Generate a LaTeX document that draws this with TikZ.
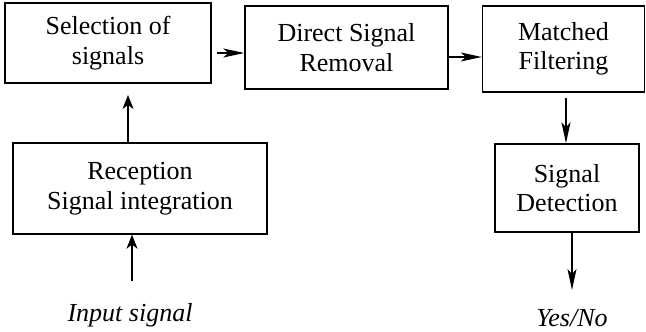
\documentclass[tikz,border=0pt]{standalone}
\usepackage{fontspec}
\setmainfont{Liberation Serif}
\usetikzlibrary{arrows.meta}
\begin{document}
\begin{tikzpicture}[x=1pt,y=-1pt,
  box/.style={draw,line width=1.4pt,align=center,inner sep=0pt,font=\fontsize{26}{29.5}\selectfont},
  arrlong/.style={line width=1.6pt,-{Stealth[length=21pt,width=9pt,inset=5pt]}},
  arrshort/.style={line width=1.6pt,-{Stealth[length=14pt,width=11pt,inset=4pt]}},
  lbl/.style={font=\fontsize{26}{29.5}\selectfont\itshape,inner sep=0pt,anchor=base}]
\useasboundingbox (0,0) rectangle (646,332);
\node[box,minimum width=206pt,minimum height=80pt] (b1) at (108,43) {Selection of\\signals};
\node[box,minimum width=203pt,minimum height=83pt] (b2) at (346.5,47.5) {Direct Signal\\Removal};
\node[box,minimum width=162pt,minimum height=86pt] (b3) at (563.5,49) {Matched\\Filtering};
\node[box,minimum width=254pt,minimum height=91pt] (b4) at (140,188.5) {Reception\\Signal integration};
\node[box,minimum width=144pt,minimum height=88pt] (b5) at (567,188) {Signal\\Detection};
\node[lbl] (in) at (130,321.5) {Input signal};
\node[lbl] (out) at (572,326) {Yes/No};
\coordinate (a1) at (217,53);
\coordinate (a2) at (449,57);
\coordinate (a3) at (128,95);
\coordinate (a4) at (566,98);
\coordinate (a5) at (132,281);
\coordinate (a6) at (572,290);
\draw[arrlong] (a1) -- (a1 -| b2.west);
\draw[arrlong] (a2) -- (a2 -| b3.west);
\draw[arrshort] (a3 |- b4.north) -- (a3);
\draw[arrlong] (a4) -- (a4 |- b5.north);
\draw[arrshort] (a5) -- (a5 |- b4.south);
\draw[arrlong] (a6 |- b5.south) -- (a6);
\end{tikzpicture}
\end{document}
